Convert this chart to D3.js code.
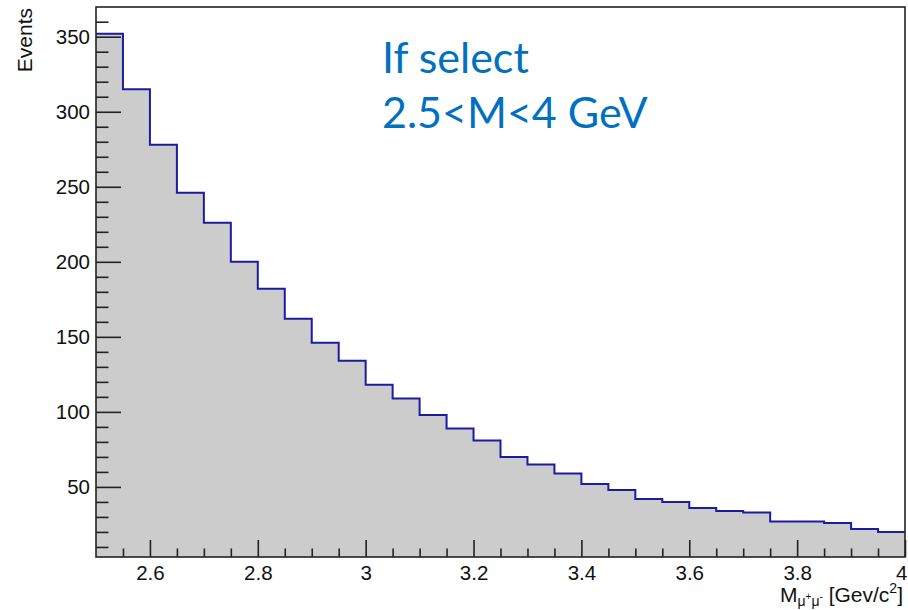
<!DOCTYPE html>
<html><head><meta charset="utf-8">
<script src="https://cdn.jsdelivr.net/npm/d3@7"></script>
<style>body{margin:0;background:#fff}</style>
</head><body><svg id="c" width="908" height="610"></svg>
<script>
// ---- data ----
const binLow = 2.5;
const binHigh = 4.0;
const binWidth = 0.05;
const counts = [352,315,278,246,226,200,182,162,146,134,118,109,98,89,81,70,65,59,52,48,42,40,36,34,33,27,27,26,22,20];
const yMajorTicks = [50,100,150,200,250,300,350];
const yMinorTicks = d3.range(10, 370, 10).filter(v => v % 50 !== 0);
const xMajorTicks = [2.6,2.8,3.0,3.2,3.4,3.6,3.8,4.0];
const xTickLabels = ["2.6","2.8","3","3.2","3.4","3.6","3.8","4"];
const xMinorTicks = d3.range(2.55, 4.0, 0.05).map(v => +v.toFixed(2)).filter(v => !xMajorTicks.some(t => Math.abs(t - v) < 1e-6));
const annotationLines = ["If select", "2.5<M<4 GeV"];
const yTitle = "Events";

// ---- layout ----
const svg = d3.select("#c");
const L = 96, R = 905, T = 7, B = 557;
const x = d3.scaleLinear().domain([binLow, binHigh]).range([L, R]);
const y = d3.scaleLinear().domain([3.3, 369.8]).range([B, T]);

const pts = counts.map((c, i) => ({ x: binLow + i * binWidth, v: c }));
pts.push({ x: binHigh, v: counts[counts.length - 1] });

// histogram fill
svg.append("path").datum(pts)
  .attr("fill", "#cccccc")
  .attr("d", d3.area().curve(d3.curveStepAfter).x(d => x(d.x)).y0(B).y1(d => y(d.v)));
// histogram outline
svg.append("path").datum(pts)
  .attr("fill", "none").attr("stroke", "#1c1ca0").attr("stroke-width", 2)
  .attr("d", d3.line().curve(d3.curveStepAfter).x(d => x(d.x)).y(d => y(d.v)));

const font = "'Liberation Sans', Arial, sans-serif";

// y axis major
const gy = svg.append("g").attr("transform", `translate(${L},0)`)
  .call(d3.axisLeft(y).tickValues(yMajorTicks).tickSizeInner(-25).tickSizeOuter(0).tickPadding(6));
// y minor
const gym = svg.append("g").attr("transform", `translate(${L},0)`)
  .call(d3.axisLeft(y).tickValues(yMinorTicks).tickSizeInner(-12.5).tickSizeOuter(0).tickFormat(""));
// x axis major
const gx = svg.append("g").attr("transform", `translate(0,${B})`)
  .call(d3.axisBottom(x).tickValues(xMajorTicks).tickSizeInner(-17).tickSizeOuter(0).tickPadding(8)
    .tickFormat((d, i) => xTickLabels[i]));
const gxm = svg.append("g").attr("transform", `translate(0,${B})`)
  .call(d3.axisBottom(x).tickValues(xMinorTicks).tickSizeInner(-8.5).tickSizeOuter(0).tickFormat(""));

[gy, gym, gx, gxm].forEach(g => {
  g.select(".domain").remove();
  g.selectAll("line").attr("stroke", "#222").attr("stroke-width", 1.6);
  g.selectAll("text").attr("font-family", font).attr("font-size", 20.5).attr("fill", "#111");
});
// keep the last x label inside the picture
gx.selectAll(".tick").filter(d => d === binHigh).select("text")
  .attr("text-anchor", "end").attr("x", 907 - R);

// frame
svg.append("rect").attr("x", L).attr("y", T).attr("width", R - L).attr("height", B - T)
  .attr("fill", "none").attr("stroke", "#222").attr("stroke-width", 1.6);

// y title
svg.append("text").attr("transform", `translate(32,8) rotate(-90)`)
  .attr("text-anchor", "end").attr("font-family", font).attr("font-size", 21).attr("fill", "#111")
  .text(yTitle);

// x title
const xt = svg.append("text").attr("x", 903).attr("y", 602).attr("text-anchor", "end")
  .attr("font-family", font).attr("font-size", 21).attr("fill", "#111");
xt.append("tspan").text("M");
xt.append("tspan").attr("font-size", 14).attr("dy", 4).text("μ");
xt.append("tspan").attr("font-size", 10).attr("dy", -6).text("+");
xt.append("tspan").attr("font-size", 14).attr("dy", 6).text("μ");
xt.append("tspan").attr("font-size", 10).attr("dy", -6).text("-");
xt.append("tspan").attr("dy", 2).text(" [Gev/c");
xt.append("tspan").attr("font-size", 14).attr("dy", -9).text("2");
xt.append("tspan").attr("dy", 9).text("]");

// annotation
annotationLines.forEach((t, i) => {
  svg.append("text").attr("x", 382).attr("y", 73 + i * 55)
    .attr("font-family", "Lato, 'Open Sans', sans-serif").attr("font-size", 43)
    .attr("fill", "#0070c0").text(t);
});
</script>
</body></html>
